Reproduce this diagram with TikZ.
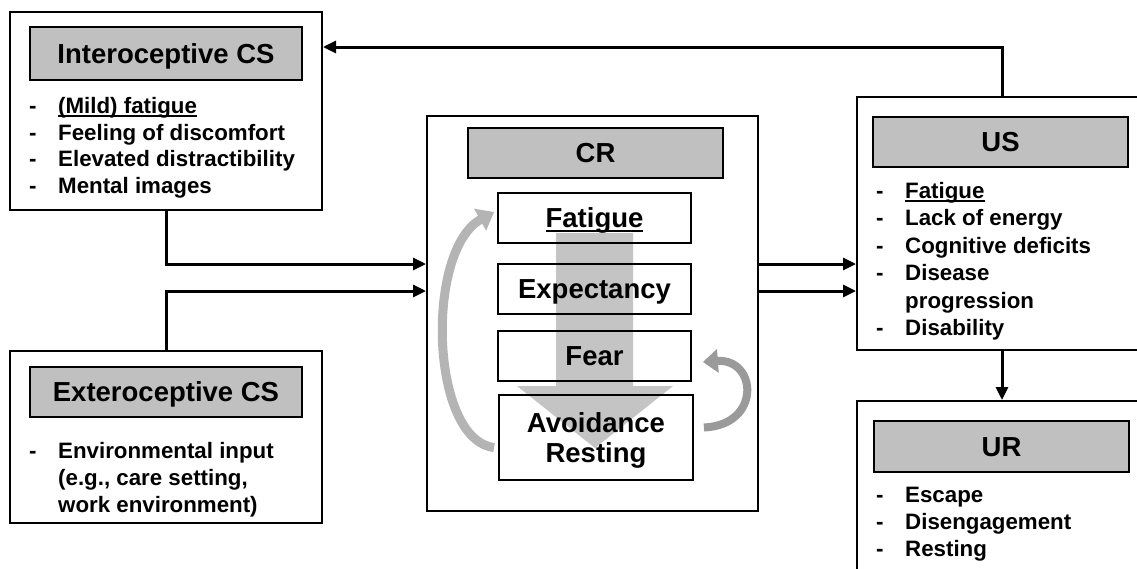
\documentclass[tikz,border=0pt]{standalone}
\usepackage{fontspec}
\setmainfont{Liberation Sans}
\usetikzlibrary{arrows.meta,calc}
\definecolor{hdrgray}{HTML}{C0C0C0}
\definecolor{bigarrow}{HTML}{C4C4C4}
\definecolor{leftarc}{HTML}{B4B4B4}
\definecolor{rightarc}{HTML}{9A9A9A}
\newcommand\myul[1]{\setbox0=\hbox{#1}\rlap{\rule[-0.16em]{\wd0}{0.075em}}\box0}
\newcommand\bodyfont{\bfseries\fontsize{22.3}{26.7}\selectfont}
\newcommand\hdrfont{\bfseries\fontsize{27.5}{30}\selectfont}
\newcommand\inboxfont{\bfseries\fontsize{27.5}{30}\selectfont}
\newcommand\dsh{\makebox[29pt][l]{-}}
\tikzset{
  outerbox/.style={draw, line width=2pt, inner sep=0pt},
  hdrbox/.style={draw, fill=hdrgray, line width=1.8pt, inner sep=0pt, font=\hdrfont, text height=19.7pt, text depth=0pt},
  crbox/.style={draw, line width=1.8pt, inner sep=0pt, font=\inboxfont, text height=19.7pt, text depth=0pt},
  item/.style={anchor=base west, font=\bodyfont, inner sep=0pt},
  conn/.style={line width=3pt, -{Triangle[length=13pt,width=12pt]}},
}
\begin{document}
\begin{tikzpicture}[x=1pt,y=-1pt]
\useasboundingbox (0,0) rectangle (1137,568);
\clip (0,0) rectangle (1137,568);
\fill[white] (0,0) rectangle (1137,568);

% outer boxes
\node[outerbox, minimum width=312pt, minimum height=198pt] (intero) at (166,111) {};
\node[outerbox, minimum width=312pt, minimum height=172pt] (extero) at (166,437) {};
\node[outerbox, minimum width=331pt, minimum height=395pt] (cr) at (592.5,313.5) {};
\node[outerbox, minimum width=290pt, minimum height=253pt] (us) at (1002,223.5) {};
\node[outerbox, minimum width=290pt, minimum height=199pt] (ur) at (1002,500.5) {};

% headers
\node[hdrbox, minimum width=272pt, minimum height=53pt] (interoh) at (166,53.5) {Interoceptive CS};
\node[hdrbox, minimum width=272pt, minimum height=50pt] (exteroh) at (166,392) {Exteroceptive CS};
\node[hdrbox, minimum width=255pt, minimum height=50pt] (crh) at (595.5,153) {CR};
\node[hdrbox, minimum width=255pt, minimum height=50pt] (ush) at (1000.5,142) {US};
\node[hdrbox, minimum width=255pt, minimum height=51pt] (urh) at (1001.5,446.5) {UR};

% big gray arrow
\fill[bigarrow] (556,233) -- (633,233) -- (633,386) -- (673,386) -- (595,448) -- (517,386) -- (556,386) -- cycle;

% inner CR boxes
\node[crbox, minimum width=193pt, minimum height=50pt] (fat) at (594.5,218) {\myul{Fatigue}};
\node[crbox, minimum width=193pt, minimum height=50pt] (exp) at (594.5,289) {Expectancy};
\node[crbox, minimum width=193pt, minimum height=50pt] (fear) at (594.5,356) {Fear};
\node[crbox, minimum width=194pt, minimum height=85pt, align=center, text height=50pt, text depth=-4pt] (av) at (596,437.5) {Avoidance\\Resting};

% curved feedback arrows
\draw[leftarc, line width=9pt, -{Triangle[length=16pt,width=24pt]}]
  ([shift={(-4pt,-10pt)}]av.west) .. controls (430,440) and (425,250) .. ([shift={(-3pt,6pt)}]fat.west);
\draw[rightarc, line width=8pt, -{Triangle[length=15pt,width=23pt]}]
  ([shift={(10pt,10pt)}]av.east) .. controls (762,425) and (757,358) .. ([shift={(11pt,-6pt)}]fear.east);

% list texts
\node[item] (i1) at (29,113) {\dsh\myul{(Mild) fatigue}};
\node[item] (i2) at (29,140) {\dsh Feeling of discomfort};
\node[item] (i3) at (29,166.5) {\dsh Elevated distractibility};
\node[item] (i4) at (29,193) {\dsh Mental images};

\node[item] (e1) at (29,458) {\dsh Environmental input};
\node[item] (e2) at (58,485) {(e.g., care setting,};
\node[item] (e3) at (58,512) {work environment)};

\node[item] (u1) at (876,198) {\dsh\myul{Fatigue}};
\node[item] (u2) at (876,225.5) {\dsh Lack of energy};
\node[item] (u3) at (876,253) {\dsh Cognitive deficits};
\node[item] (u4) at (876,280.5) {\dsh Disease};
\node[item] (u5) at (905,308) {progression};
\node[item] (u6) at (876,335.5) {\dsh Disability};

\node[item] (r1) at (876,502) {\dsh Escape};
\node[item] (r2) at (876,529) {\dsh Disengagement};
\node[item] (r3) at (876,556) {\dsh Resting};

% connectors
\coordinate (topy) at (0,47);
\coordinate (ya) at (0,264);
\coordinate (yb) at (0,291);
\draw[conn] (us.north) |- (intero.east |- topy);
\draw[conn] (us.south) -- (ur.north);
\draw[conn] (intero.south) |- (cr.west |- ya);
\draw[conn] (extero.north) |- (cr.west |- yb);
\draw[conn] (cr.east |- ya) -- (us.west |- ya);
\draw[conn] (cr.east |- yb) -- (us.west |- yb);
\end{tikzpicture}
\end{document}
